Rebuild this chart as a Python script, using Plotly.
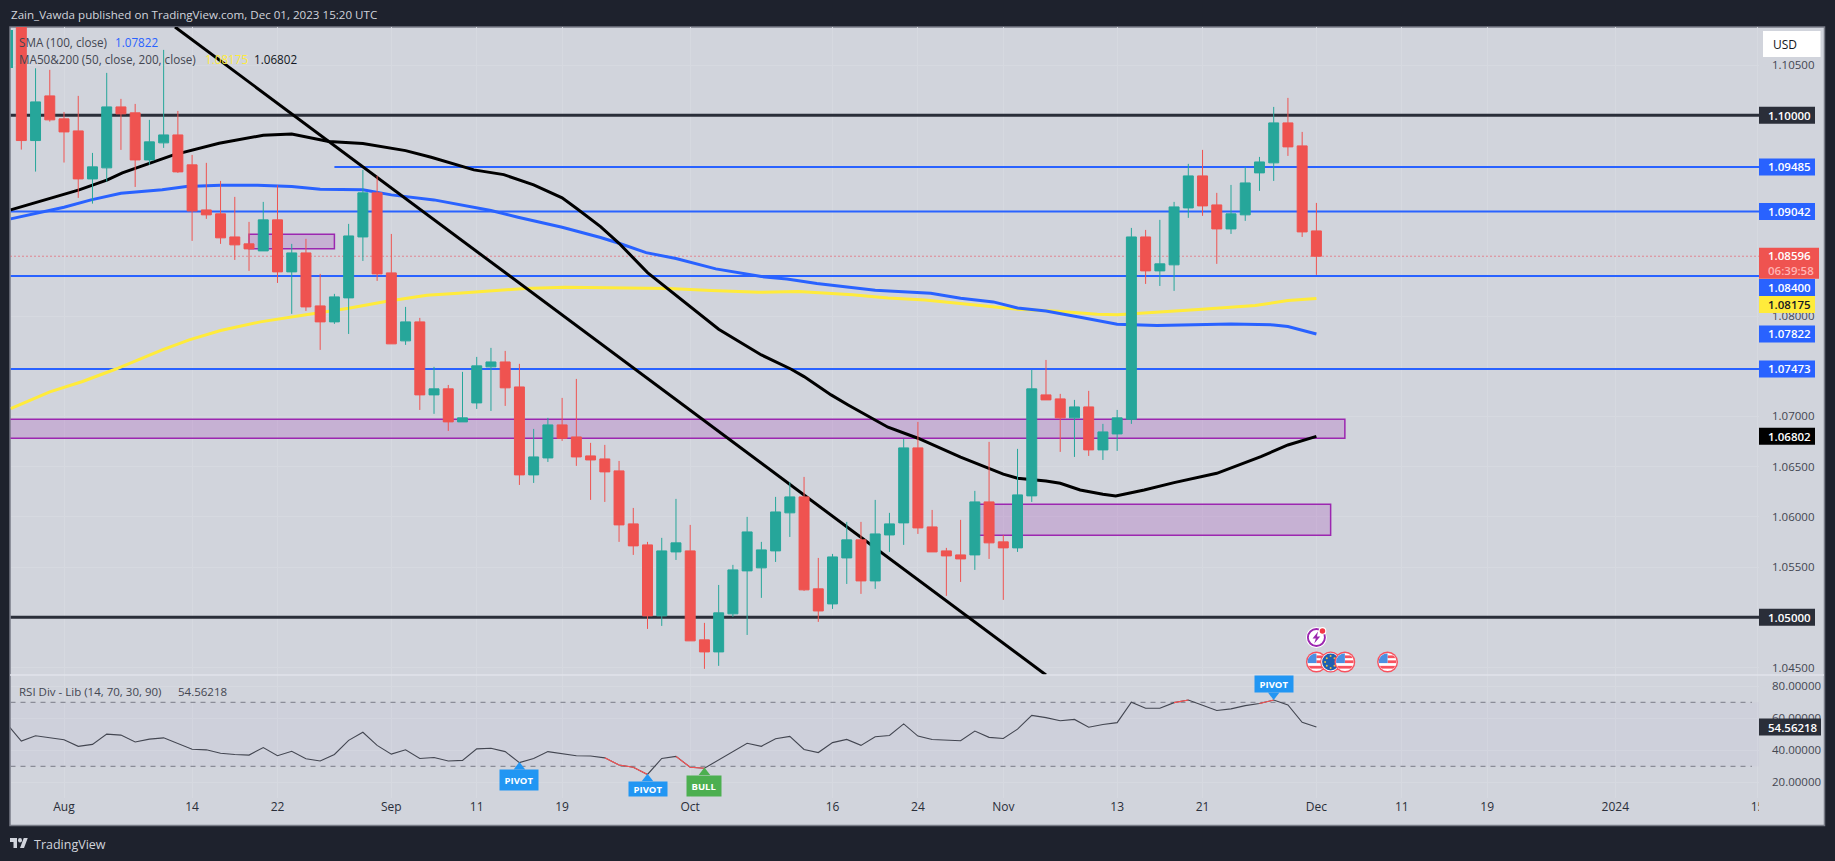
import base64

import numpy as np
import pandas as pd
import plotly.graph_objects as go
from plotly.subplots import make_subplots

W, H = 1835, 861
FONT = "Open Sans"

# =============================================================================
# DATA
# =============================================================================
FIRST_DAY = "2023-07-27"
ORIGIN_DAY = "2023-08-01"

OPEN = [1.1090, 1.09748, 1.10193, 1.09964, 1.09844, 1.09366, 1.09476, 1.10083, 1.10024, 1.09555,
        1.09725, 1.09804, 1.09506, 1.09057, 1.09018, 1.08788, 1.08719, 1.08649, 1.08958, 1.0844,
        1.08629, 1.08101, 1.07942, 1.08181, 1.08788, 1.09227, 1.0843, 1.07753, 1.07942, 1.07215,
        1.07275, 1.06946, 1.07135, 1.07494, 1.07543, 1.07294, 1.06418, 1.06587, 1.06916, 1.06796,
        1.06607, 1.06577, 1.06458, 1.0593, 1.05721, 1.05014, 1.05651, 1.05661, 1.04775, 1.04655,
        1.05034, 1.05462, 1.05492, 1.05661, 1.0604, 1.06199, 1.05283, 1.05133, 1.05591, 1.05771,
        1.05362, 1.0582, 1.0594, 1.06687, 1.059, 1.05661, 1.05621, 1.05621, 1.06149, 1.05751,
        1.05691, 1.06209, 1.07215, 1.07175, 1.06986, 1.07095, 1.06667, 1.06826, 1.06972, 1.08788,
        1.0845, 1.0851, 1.09077, 1.09396, 1.09107, 1.08868, 1.09008, 1.09426, 1.09526, 1.09924,
        1.09695, 1.08848]
HIGH = [1.1149, 1.10468, 1.10452, 1.10033, 1.10193, 1.09625, 1.10422, 1.10163, 1.10113, 1.09954,
        1.10651, 1.10043, 1.09605, 1.09526, 1.09346, 1.09187, 1.08938, 1.09137, 1.09303, 1.08719,
        1.08769, 1.0842, 1.08221, 1.08918, 1.09456, 1.09396, 1.08818, 1.08091, 1.07982, 1.07494,
        1.07314, 1.07444, 1.07593, 1.07683, 1.07653, 1.07524, 1.06876, 1.06986, 1.07185, 1.07374,
        1.06737, 1.06717, 1.06557, 1.06089, 1.05751, 1.05791, 1.06179, 1.0592, 1.04944, 1.05322,
        1.05522, 1.06, 1.05751, 1.06199, 1.06348, 1.06398, 1.05591, 1.05631, 1.0595, 1.0595,
        1.06169, 1.0604, 1.06777, 1.06946, 1.06069, 1.05691, 1.0597, 1.06259, 1.06747, 1.0582,
        1.06677, 1.07464, 1.07563, 1.07225, 1.07165, 1.07255, 1.06926, 1.07065, 1.08878, 1.08858,
        1.08958, 1.09137, 1.09516, 1.09655, 1.09227, 1.09306, 1.09486, 1.09585, 1.10083, 1.10173,
        1.09834, 1.09127]
LOW = [1.09658, 1.09439, 1.09937, 1.09529, 1.09177, 1.0912, 1.0934, 1.09655, 1.09286, 1.09506,
       1.09675, 1.09426, 1.08749, 1.08968, 1.08719, 1.08559, 1.0845, 1.08649, 1.0833, 1.08022,
       1.08051, 1.07663, 1.07922, 1.07822, 1.08549, 1.0835, 1.07723, 1.07713, 1.07065, 1.07026,
       1.06856, 1.06946, 1.07075, 1.07055, 1.07105, 1.06318, 1.06338, 1.06547, 1.06757, 1.06508,
       1.06169, 1.06149, 1.05751, 1.05621, 1.04884, 1.04914, 1.05571, 1.04765, 1.04486, 1.04516,
       1.05004, 1.04824, 1.05193, 1.05551, 1.058, 1.05263, 1.04954, 1.05083, 1.05332, 1.05233,
       1.05283, 1.05651, 1.05721, 1.0583, 1.05651, 1.05213, 1.05352, 1.05472, 1.05581, 1.05173,
       1.05651, 1.06149, 1.07165, 1.06647, 1.06597, 1.06607, 1.06567, 1.06657, 1.06926, 1.0832,
       1.083, 1.08251, 1.08978, 1.08998, 1.0852, 1.08818, 1.08948, 1.09247, 1.09346, 1.09595,
       1.08788, 1.0841]
CLOSE = [1.09748, 1.10133, 1.09954, 1.09834, 1.09366, 1.09486, 1.10083, 1.10014, 1.09555, 1.09735,
         1.09804, 1.09436, 1.09047, 1.09008, 1.08779, 1.08709, 1.08669, 1.08958, 1.0844, 1.08629,
         1.08091, 1.07942, 1.08191, 1.08798, 1.09227, 1.0842, 1.07723, 1.07942, 1.07215, 1.07275,
         1.06946, 1.06986, 1.07504, 1.07543, 1.07285, 1.06418, 1.06597, 1.06916, 1.06783, 1.06597,
         1.06567, 1.06448, 1.0592, 1.05711, 1.05014, 1.05661, 1.05741, 1.04765, 1.04655, 1.05044,
         1.05472, 1.0585, 1.05671, 1.06049, 1.06199, 1.05273, 1.05063, 1.05601, 1.05771, 1.05362,
         1.0583, 1.0593, 1.06687, 1.0589, 1.05651, 1.05611, 1.05581, 1.06149, 1.05741, 1.05691,
         1.06219, 1.07275, 1.07165, 1.06986, 1.07095, 1.06667, 1.06846, 1.06986, 1.08788, 1.0845,
         1.0852, 1.09087, 1.09396, 1.09097, 1.08868, 1.09018, 1.09326, 1.09535, 1.09924, 1.09685,
         1.08838, 1.08596]

SMA100_BARS = [-3.75, 0, 1.9, 4, 6.9, 8.6, 11, 13.6, 16, 18, 21, 23, 26, 30, 31.9, 35, 37.7, 39, 40.9, 43,
               45.8, 49, 50.8, 52.9, 57, 60.9, 63, 65.3, 67, 69, 71.4, 74, 76.8, 78.9, 82, 85, 86, 88]
SMA100_VALUES = [1.08968, 1.09084, 1.09157, 1.09223, 1.09257, 1.0929, 1.09303, 1.09303, 1.0929, 1.09263,
                 1.09257, 1.09207, 1.09157, 1.09051, 1.08984, 1.08885, 1.08782, 1.08725, 1.08632, 1.08573,
                 1.0847, 1.08393, 1.0837, 1.08324, 1.08257, 1.08227, 1.08178, 1.08141, 1.08081, 1.08051,
                 1.07988, 1.07919, 1.07905, 1.07912, 1.07922, 1.07912, 1.07895, 1.07822]

MA50_BARS = [-3.75, 1.06, 3.05, 4.1, 7.7, 10.9, 14, 16, 18.6, 21, 24, 25.8, 28.8, 30.9, 33, 35, 36, 37.7, 39,
             41, 46, 49, 51.1, 52, 53.9, 55.1, 57.9, 60, 63, 65, 66, 67, 69, 70, 71.4, 73, 73.9, 75.9, 78,
             81, 84.1, 86, 88]
MA50_VALUES = [1.09057, 1.09257, 1.09356, 1.09426, 1.09605, 1.09721, 1.09801, 1.09814, 1.09738, 1.09718,
               1.09648, 1.09582, 1.09456, 1.09409, 1.09306, 1.09177, 1.09074, 1.08891, 1.08725, 1.08433,
               1.07869, 1.07613, 1.0747, 1.07397, 1.07215, 1.07115, 1.06893, 1.06783, 1.06594, 1.06484,
               1.06425, 1.06385, 1.06358, 1.06335, 1.06268, 1.06225, 1.06208, 1.06268, 1.06341, 1.06434,
               1.066, 1.06716, 1.06802]

MA200_BARS = [-3.75, -1, 1.3, 3.6, 6.9, 8.8, 11, 13.8, 17, 20, 22.6, 25.5, 27.7, 32.4, 35.2, 39, 42.5, 45.5,
              48.8, 51.6, 55.4, 57.9, 60.5, 64.2, 67, 69.8, 72.6, 74, 76.8, 79.7, 83.7, 86, 88]
MA200_VALUES = [1.07079, 1.07245, 1.07348, 1.0747, 1.07663, 1.07763, 1.07856, 1.07942, 1.08012, 1.08078,
                1.08144, 1.08207, 1.08227, 1.08274, 1.08287, 1.08284, 1.08274, 1.08254, 1.08237, 1.08244,
                1.08211, 1.08181, 1.08161, 1.08108, 1.08068, 1.08048, 1.08018, 1.08012, 1.08035, 1.08065,
                1.08105, 1.08154, 1.08175]

# first value sits one bar left of the first visible candle
RSI_VALUES = [56.3, 45.8, 49.1, 47.8, 46.6, 42.5, 43.7, 50.1, 49.5, 45.2, 47.0, 47.8, 44.4, 40.7, 40.3,
              38.2, 37.4, 37.0, 41.7, 36.6, 39.4, 34.7, 33.3, 37.4, 46.2, 51.3, 43.1, 37.6, 40.3, 34.9,
              35.5, 33.3, 33.7, 40.9, 41.3, 39.2, 32.3, 34.9, 39.2, 38.0, 36.6, 36.4, 35.3, 30.8, 29.4,
              24.9, 34.9, 36.2, 29.4, 28.8, 34.1, 39.6, 44.4, 42.5, 47.2, 48.7, 40.5, 38.6, 44.8, 46.8,
              43.1, 48.5, 49.3, 56.5, 48.9, 46.8, 46.4, 46.0, 52.0, 48.1, 47.4, 53.2, 61.8, 60.4, 58.5,
              59.3, 54.4, 56.1, 57.3, 70.0, 66.3, 66.3, 69.8, 71.4, 68.2, 64.9, 65.9, 67.9, 69.2, 71.4,
              68.4, 57.5, 54.56]
RSI_RED_SEGMENTS = [(38, 41), (43, 45), (78, 79), (84, 85)]

BLUE_LEVELS = [1.09485, 1.09042, 1.084, 1.07473]
BLACK_LEVELS = [1.1, 1.05]
LEVEL_START_BAR = {1.09485: 19}

TREND_BARS = [7.8, 69.0]
TREND_PRICES = [1.10879, 1.04425]

# x0, x1 in bars, y0, y1 in price
ZONES = [(-4, 90, 1.06783, 1.06972), (13, 19, 1.08671, 1.08815), (64, 89, 1.05817, 1.06125)]

LAST_PRICE = 1.08596
LAST_RSI = 54.56218

TIME_TICK_DATES = ["2023-08-01", "2023-08-14", "2023-08-22", "2023-09-01", "2023-09-11", "2023-09-19",
                   "2023-10-02", "2023-10-16", "2023-10-24", "2023-11-01", "2023-11-13", "2023-11-21",
                   "2023-12-01", "2023-12-11", "2023-12-19", "2024-01-01", "2024-01-15"]
TIME_TICK_LABELS = ["Aug", "14", "22", "Sep", "11", "19", "Oct", "16", "24", "Nov", "13", "21",
                    "Dec", "11", "19", "2024", "15"]
# 1.10000 and 1.05000 are shown by their tags
PRICE_TICKS = [1.045, 1.055, 1.06, 1.065, 1.07, 1.08, 1.105]
RSI_TICKS = [20, 40, 60, 80]

US_EVENT_DATES = ["2023-12-01", "2023-12-05", "2023-12-08"]
EU_EVENT_DATE = "2023-12-04"
FLASH_EVENT_DATE = "2023-12-01"

# label text, colour, text colour, price, pixels moved to stay clear of a neighbour
PRICE_TAGS = [("1.10000", "#2a2e39", "#ffffff", 1.1, 0), ("1.09485", "#2962ff", "#ffffff", 1.09485, 0),
              ("1.09042", "#2962ff", "#ffffff", 1.09042, 0), ("1.08400", "#2962ff", "#ffffff", 1.084, -11.6),
              ("1.08175", "#ffeb3b", "#131722", 1.08175, -6), ("1.07822", "#2962ff", "#ffffff", 1.07822, 0),
              ("1.07473", "#2962ff", "#ffffff", 1.07473, 0), ("1.06802", "#000000", "#ffffff", 1.06802, 0),
              ("1.05000", "#2a2e39", "#ffffff", 1.05, 0)]

PRICE_PX = 10040.0  # pixels per unit of price
RSI_PX = 1.6        # pixels per RSI point


# =============================================================================
# HELPERS
# =============================================================================
def bar_of(day):
    return int(np.busday_count(ORIGIN_DAY, day))


def px_x(x):
    return x / W


def px_y(y):
    return 1 - y / H


def svg_source(svg):
    return "data:image/svg+xml;base64," + base64.b64encode(svg.encode()).decode()


def label(fig, text, x, y, color, size=12):
    fig.add_annotation(text=text, xref="paper", yref="paper", x=px_x(x), y=px_y(y), xanchor="left",
                       yanchor="middle", showarrow=False, font=dict(family=FONT, size=size, color=color),
                       borderpad=0)


def scale_tag(fig, text, yref, value, unit_px, color, text_color, width, height=17, shift=0):
    """Filled box on the price scale with its text, shift in pixels (up is positive)."""
    mid = value + shift / unit_px
    half = height / 2 / unit_px
    fig.add_shape(type="rect", xref="paper", yref=yref, x0=px_x(1759), x1=px_x(1759 + width), y0=mid - half,
                  y1=mid + half, fillcolor=color, line=dict(width=0), layer="above")
    fig.add_annotation(text=text, xref="paper", yref=yref, x=px_x(1767), y=mid, xanchor="left", yanchor="middle",
                       showarrow=False, align="left", borderpad=0,
                       font=dict(family=FONT, size=11.5, color=text_color, weight=600))


US_ICON = """<svg xmlns="http://www.w3.org/2000/svg" viewBox="0 0 40 40"><defs><clipPath id="c"><circle cx="20" cy="20" r="16"/></clipPath></defs>
<circle cx="20" cy="20" r="19" fill="#f7525f"/><circle cx="20" cy="20" r="16.5" fill="#ffffff"/><g clip-path="url(#c)">
<rect x="20" y="8" width="18" height="5" fill="#f7525f"/><rect x="20" y="17" width="18" height="5" fill="#f7525f"/><rect x="2" y="27" width="36" height="5" fill="#f7525f"/>
<rect x="2" y="4" width="18" height="18" fill="#4a90e2"/></g></svg>"""
EU_ICON = """<svg xmlns="http://www.w3.org/2000/svg" viewBox="0 0 40 40"><circle cx="20" cy="20" r="19" fill="#f7525f"/><circle cx="20" cy="20" r="17" fill="#ffffff"/>
<circle cx="20" cy="20" r="15.5" fill="#1f5fb0"/><g fill="#e8c33c"><circle cx="20" cy="9" r="1.8"/><circle cx="27" cy="13" r="1.8"/><circle cx="30" cy="20" r="1.8"/><circle cx="27" cy="27" r="1.8"/>
<circle cx="20" cy="31" r="1.8"/><circle cx="13" cy="27" r="1.8"/><circle cx="10" cy="20" r="1.8"/><circle cx="13" cy="13" r="1.8"/></g></svg>"""
FLASH_ICON = """<svg xmlns="http://www.w3.org/2000/svg" viewBox="0 0 40 40"><circle cx="20" cy="20" r="19" fill="#ffffff"/>
<circle cx="20" cy="20" r="15.5" fill="none" stroke="#9c27b0" stroke-width="3.5"/><path d="M23 9 L13 22 H19 L16 31 L27 18 H21 Z" fill="#9c27b0"/>
<circle cx="31" cy="8" r="7" fill="#ffffff"/><circle cx="31" cy="8" r="5" fill="#f23645"/></svg>"""
LOGO_ICON = """<svg xmlns="http://www.w3.org/2000/svg" viewBox="0 4 36 18" preserveAspectRatio="none"><g fill="#d1d4dc">
<path d="M14 22H7V11H0V4h14v18zM28 22h-8l7.5-18h8L28 22z"/><circle cx="20" cy="8" r="4"/></g></svg>"""


# =============================================================================
# FIGURE
# =============================================================================
bars = np.arange(-3, -3 + len(CLOSE))
rsi_bars = np.arange(-4, -4 + len(RSI_VALUES))
rsi_of = dict(zip(rsi_bars.tolist(), RSI_VALUES))
assert len(pd.bdate_range(FIRST_DAY, periods=len(CLOSE))) == len(bars)
x_range = [-3.76, 119.1]
price_range = [1.04425, 1.10879]
rsi_range = [10.2, 87.06]

fig = make_subplots(rows=2, cols=1, shared_xaxes=True, vertical_spacing=0)

# levels and zones sit under the candles
for x0, x1, y0, y1 in ZONES:
    fig.add_shape(type="rect", xref="x", yref="y", x0=x0, x1=x1, y0=y0, y1=y1, layer="between",
                  fillcolor="rgba(156,39,176,0.2)", line=dict(color="#9c27b0", width=1.5))

fig.add_trace(go.Scatter(x=[x_range[0], x_range[1]], y=[LAST_PRICE, LAST_PRICE], mode="lines",
                         line=dict(color="#f23645", width=1, dash="1px 3px")), row=1, col=1)
for level in BLUE_LEVELS:
    fig.add_trace(go.Scatter(x=[LEVEL_START_BAR.get(level, x_range[0]), x_range[1]], y=[level, level],
                             mode="lines", line=dict(color="#2962ff", width=2)), row=1, col=1)
for level in BLACK_LEVELS:
    fig.add_trace(go.Scatter(x=x_range, y=[level, level], mode="lines",
                             line=dict(color="#2a2e39", width=3)), row=1, col=1)

fig.add_trace(go.Scatter(x=MA200_BARS, y=MA200_VALUES, mode="lines",
                         line=dict(color="#ffeb3b", width=3)), row=1, col=1)
fig.add_trace(go.Scatter(x=SMA100_BARS, y=SMA100_VALUES, mode="lines",
                         line=dict(color="#2962ff", width=3)), row=1, col=1)
fig.add_trace(go.Scatter(x=MA50_BARS, y=MA50_VALUES, mode="lines",
                         line=dict(color="#000000", width=3)), row=1, col=1)
fig.add_trace(go.Scatter(x=TREND_BARS, y=TREND_PRICES, mode="lines",
                         line=dict(color="#000000", width=3)), row=1, col=1)

# candles go on an overlaid axis, scatter would otherwise draw on top of them
fig.add_trace(go.Candlestick(x=bars, open=OPEN, high=HIGH, low=LOW, close=CLOSE, xaxis="x", yaxis="y3",
                             whiskerwidth=0,
                             increasing=dict(line=dict(color="#26a69a", width=1), fillcolor="#26a69a"),
                             decreasing=dict(line=dict(color="#ef5350", width=1), fillcolor="#ef5350")))

# RSI pane
fig.add_shape(type="rect", xref="x2", yref="y2", x0=x_range[0], x1=x_range[1], y0=30, y1=70, layer="between",
              fillcolor="rgba(126,87,194,0.03)", line=dict(width=0))
for level in [70, 30]:
    fig.add_trace(go.Scatter(x=[x_range[0], 118.6], y=[level, level], mode="lines",
                             line=dict(color="#787b86", width=1, dash="5px 5px")), row=2, col=1)
fig.add_trace(go.Scatter(x=rsi_bars, y=RSI_VALUES, mode="lines", line=dict(color="#434651", width=1.1)),
              row=2, col=1)
for start, end in RSI_RED_SEGMENTS:
    seg = list(range(start, end + 1))
    fig.add_trace(go.Scatter(x=seg, y=[rsi_of[b] for b in seg], mode="lines",
                             line=dict(color="#ff5252", width=1.1)), row=2, col=1)

# pointers of the pivot labels
fig.add_trace(go.Scatter(x=[32, 41], y=[rsi_of[32] - 2.7, rsi_of[41] - 2.7], mode="markers",
                         marker=dict(symbol="triangle-up", size=10, color="#2196f3")), row=2, col=1)
fig.add_trace(go.Scatter(x=[45], y=[rsi_of[45] - 2.7], mode="markers",
                         marker=dict(symbol="triangle-up", size=10, color="#4caf50")), row=2, col=1)
fig.add_trace(go.Scatter(x=[85], y=[rsi_of[85] + 3.1], mode="markers",
                         marker=dict(symbol="triangle-down", size=10, color="#2196f3")), row=2, col=1)

for bar, text, color, box_w, box_h, shift in [(32, "PIVOT", "#2196f3", 38, 20, -17),
                                              (41, "PIVOT", "#2196f3", 38, 14, -14.6),
                                              (45, "BULL", "#4caf50", 34, 20, -17.4),
                                              (85, "PIVOT", "#2196f3", 38, 16, 16)]:
    fig.add_annotation(text=text, xref="x2", yref="y2", x=bar, y=rsi_of[bar], yshift=shift, showarrow=False,
                       width=box_w, height=box_h, bgcolor=color, borderpad=0,
                       font=dict(family=FONT, size=9.5, color="#ffffff", weight="bold"))

# frame of the chart panel
fig.add_shape(type="rect", xref="paper", yref="paper", x0=px_x(10), x1=px_x(1824.5), y0=px_y(825.5), y1=px_y(27),
              fillcolor="#d1d4dc", line=dict(color="#787b86", width=1.5), layer="below")
fig.add_shape(type="line", xref="paper", yref="paper", x0=px_x(10), x1=px_x(1824), y0=px_y(675), y1=px_y(675),
              line=dict(color="#e0e3eb", width=1.5), layer="above")
# cuts the last time label at the price scale
fig.add_shape(type="rect", xref="paper", yref="paper", x0=px_x(1759), x1=px_x(1780), y0=px_y(822), y1=px_y(800),
              fillcolor="#d1d4dc", line=dict(width=0), layer="above")
# collapsed legend marker
fig.add_shape(type="rect", xref="paper", yref="paper", x0=px_x(10.5), x1=px_x(13), y0=px_y(68), y1=px_y(30),
              fillcolor="#26a69a", line=dict(width=0), layer="above")

# price scale tags
for text, color, text_color, price, shift in PRICE_TAGS:
    scale_tag(fig, text, "y", price, PRICE_PX, color, text_color, 56, shift=shift)
scale_tag(fig, "1.08596<br><span style='color:#ffb3b3'>06:39:58</span>", "y", LAST_PRICE, PRICE_PX, "#ef5350",
          "#ffffff", 60, height=31, shift=-7)
scale_tag(fig, f"{LAST_RSI:.5f}", "y2", LAST_RSI, RSI_PX, "#2a2e39", "#ffffff", 62)

fig.add_shape(type="rect", xref="paper", yref="paper", x0=px_x(1763), x1=px_x(1820.5), y0=px_y(57), y1=px_y(31),
              fillcolor="#ffffff", line=dict(width=0), layer="above")
label(fig, "USD", 1772, 44, "#131722", 12)

# header, legends, footer
label(fig, "Zain_Vawda published on TradingView.com, Dec 01, 2023 15:20 UTC", 10, 15, "#d1d4dc", 11.6)
label(fig, "SMA (100, close)", 18, 42, "#434651", 11.7)
label(fig, "1.07822", 113.5, 42, "#2962ff", 11.7)
label(fig, "MA50&200 (50, close, 200, close)", 18, 59, "#434651", 11.7)
label(fig, "1.08175", 203.5, 59, "#ffeb3b", 11.7)
label(fig, "1.06802", 253, 59, "#131722", 11.7)
label(fig, "RSI Div - Lib (14, 70, 30, 90)", 18, 691, "#434651", 11.5)
label(fig, f"{LAST_RSI:.5f}", 176.5, 691, "#434651", 11.5)
label(fig, "TradingView", 33, 844, "#d1d4dc", 12.5)

images = [dict(source=svg_source(LOGO_ICON), xref="paper", yref="paper", x=px_x(10), y=px_y(838),
               sizex=18 / W, sizey=10 / H, xanchor="left", yanchor="top", sizing="stretch", layer="above")]
event_y = price_range[0] + (price_range[1] - price_range[0]) * (675 - 662) / 648
flash_y = price_range[0] + (price_range[1] - price_range[0]) * (675 - 637.5) / 648
icon_h = (price_range[1] - price_range[0]) * 22 / 648
events = [(bar_of(US_EVENT_DATES[0]), event_y, US_ICON), (bar_of(EU_EVENT_DATE), event_y, EU_ICON),
          (bar_of(US_EVENT_DATES[1]), event_y, US_ICON), (bar_of(US_EVENT_DATES[2]), event_y, US_ICON),
          (bar_of(FLASH_EVENT_DATE), flash_y, FLASH_ICON)]
for bar, y, icon in events:
    images.append(dict(source=svg_source(icon), xref="x", yref="y", x=bar, y=y, sizex=22 / 14.23, sizey=icon_h,
                       xanchor="center", yanchor="middle", sizing="stretch", layer="above"))

axis_font = dict(family=FONT, size=11.5, color="#434651")
grid = "#d6d9e0"
tick_bars = [bar_of(d) for d in TIME_TICK_DATES]
x_domain = [px_x(10.5), px_x(1759)]

fig.update_xaxes(range=x_range, domain=x_domain, showgrid=True, gridcolor=grid, gridwidth=1, zeroline=False,
                 showline=False, ticks="", tickvals=tick_bars, ticktext=TIME_TICK_LABELS, tickangle=0,
                 rangeslider_visible=False, automargin=False, tickfont=dict(family=FONT, size=12, color="#2a2e39"))
fig.update_yaxes(side="right", zeroline=False, showline=False, showgrid=True, gridcolor=grid, gridwidth=1,
                 ticks="", tickfont=axis_font, ticklabelstandoff=12, automargin=False)

fig.update_layout(
    width=W, height=H, margin=dict(l=0, r=0, t=0, b=0), autosize=False, showlegend=False, boxgap=0.3, boxgroupgap=0,
    paper_bgcolor="#1e222d", plot_bgcolor="rgba(0,0,0,0)", images=images, hovermode=False,
    yaxis=dict(domain=[px_y(675), px_y(27)], range=price_range, tickvals=PRICE_TICKS,
               ticktext=[f"{t:.5f}" for t in PRICE_TICKS]),
    yaxis2=dict(domain=[px_y(798), px_y(675)], range=rsi_range, tickvals=RSI_TICKS,
                ticktext=[f"{t:.5f}" for t in RSI_TICKS]),
    yaxis3=dict(domain=[px_y(675), px_y(27)], range=price_range, overlaying="y", anchor="x", visible=False,
                side="right"),
)

fig.write_html("out.html", config={"displayModeBar": False},
               post_script="document.body.style.margin='0';document.body.style.background='#1e222d';")
